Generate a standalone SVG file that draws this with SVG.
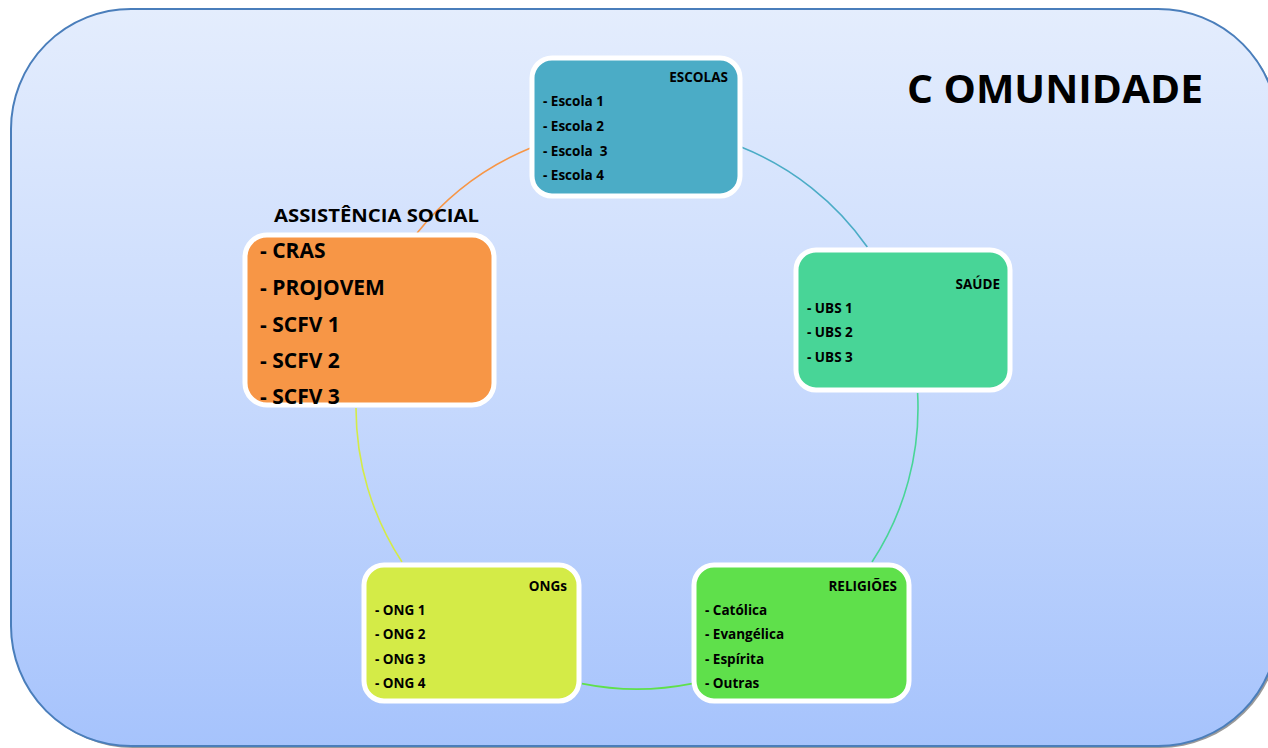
<svg xmlns="http://www.w3.org/2000/svg" width="1268" height="748" viewBox="0 0 1268 748">
<defs>
<linearGradient id="bg" x1="0" y1="0" x2="0" y2="1">
<stop offset="0" stop-color="#e4edfd"/>
<stop offset="0.5" stop-color="#c8dafd"/>
<stop offset="1" stop-color="#a6c3fc"/>
</linearGradient>
<style>
.t{font-family:"Open Sans","Liberation Sans",Arial,sans-serif;font-weight:bold;fill:#000}
.s{font-size:13.5px}
.b{font-size:21px}
.box{stroke:#fff;stroke-width:5}
.arc{fill:none;stroke-width:1.6}
</style>
</defs>
<g id="background">
<rect x="13" y="11" width="1267" height="737" rx="120" ry="120" fill="#9a9a9a"/>
<rect x="11" y="9" width="1267" height="737" rx="120" ry="120" fill="url(#bg)" stroke="#4a7ebb" stroke-width="2"/>
<text class="t" x="907" y="103" font-size="40" textLength="296" lengthAdjust="spacingAndGlyphs">C OMUNIDADE</text>
</g>
<g id="connectors">
<path class="arc" stroke="#4bacc6" d="M741.1,147 A281,281 0 0 1 867.3,247"/>
<path class="arc" stroke="#48d597" d="M917.6,393 A281,281 0 0 1 872,562"/>
<path class="arc" stroke="#5fe04b" d="M692,683.6 A281,281 0 0 1 582,683.6"/>
<path class="arc" stroke="#d4eb47" d="M402,562 A281,281 0 0 1 356,408"/>
<path class="arc" stroke="#f79646" d="M417.1,233 A281,281 0 0 1 530,148.2"/>
</g>
<g id="escolas">
<rect class="box" x="532" y="58" width="208" height="138" rx="20" fill="#4bacc6"/>
<text class="t s" x="728" y="82" text-anchor="end">ESCOLAS</text>
<text class="t s" x="543" y="106">- Escola 1</text>
<text class="t s" x="543" y="131">- Escola 2</text>
<text class="t s" x="543" y="156" xml:space="preserve">- Escola  3</text>
<text class="t s" x="543" y="180">- Escola 4</text>
</g>
<g id="saude">
<rect class="box" x="796" y="250" width="214" height="140" rx="20" fill="#48d597"/>
<text class="t s" x="1000" y="289" text-anchor="end">SAÚDE</text>
<text class="t s" x="807" y="313">- UBS 1</text>
<text class="t s" x="807" y="337">- UBS 2</text>
<text class="t s" x="807" y="362">- UBS 3</text>
</g>
<g id="religioes">
<rect class="box" x="694" y="565" width="215" height="136" rx="20" fill="#5fe04b"/>
<text class="t s" x="897" y="591" text-anchor="end">RELIGIÕES</text>
<text class="t s" x="705" y="615">- Católica</text>
<text class="t s" x="705" y="639">- Evangélica</text>
<text class="t s" x="705" y="664">- Espírita</text>
<text class="t s" x="705" y="688">- Outras</text>
</g>
<g id="ongs">
<rect class="box" x="364" y="565" width="215" height="136" rx="20" fill="#d4eb47"/>
<text class="t s" x="567" y="591" text-anchor="end">ONGs</text>
<text class="t s" x="375" y="615">- ONG 1</text>
<text class="t s" x="375" y="639">- ONG 2</text>
<text class="t s" x="375" y="664">- ONG 3</text>
<text class="t s" x="375" y="688">- ONG 4</text>
</g>
<g id="assistencia">
<text class="t" x="274" y="222" font-size="18" textLength="205" lengthAdjust="spacingAndGlyphs">ASSISTÊNCIA SOCIAL</text>
<rect class="box" x="245" y="235" width="249" height="170" rx="22" fill="#f79646"/>
<text class="t b" x="260" y="258">- CRAS</text>
<text class="t b" x="260" y="295">- PROJOVEM</text>
<text class="t b" x="260" y="332">- SCFV 1</text>
<text class="t b" x="260" y="368">- SCFV 2</text>
<text class="t b" x="260" y="404">- SCFV 3</text>
</g>
</svg>
